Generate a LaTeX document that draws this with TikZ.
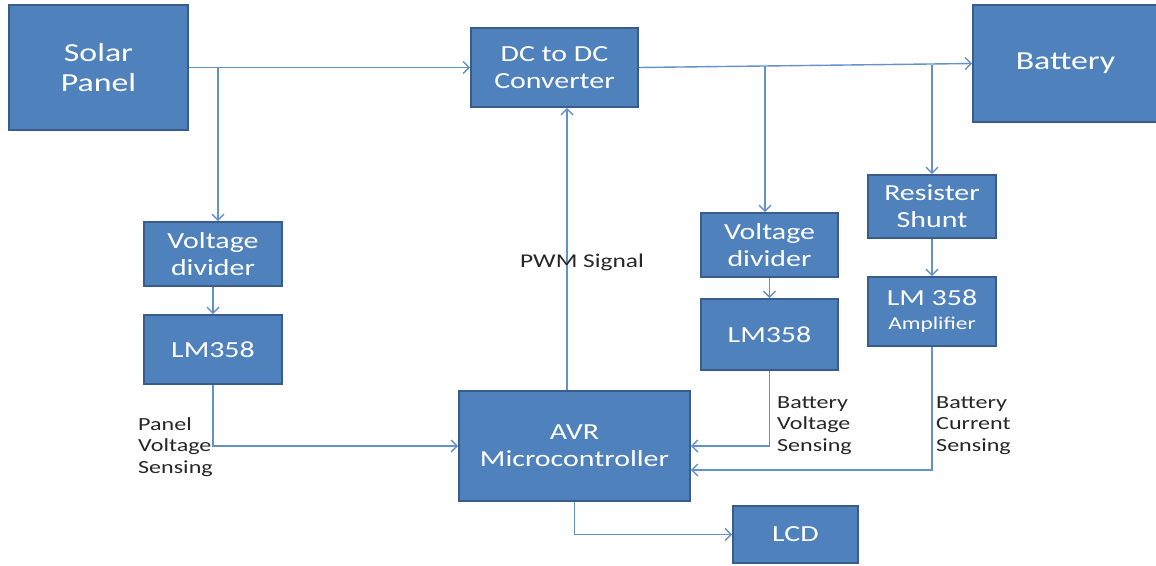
\documentclass[tikz,border=0pt]{standalone}
\usepackage{fontspec}
\setmainfont{Carlito}[FakeStretch=1.3]
\usetikzlibrary{arrows.meta,positioning}
\definecolor{boxfill}{HTML}{4F81BD}
\definecolor{boxline}{HTML}{385D8A}
\definecolor{wirecol}{HTML}{6591CB}
\begin{document}
\begin{tikzpicture}[x=1pt,y=-1pt]
\tikzstyle{every node}+=[inner sep=0pt]
\tikzstyle{block}=[draw=boxline,line width=1.8pt,fill=boxfill,text=white,align=center,font=\fontsize{23}{27}\selectfont]
\tikzstyle{bigblock}=[block,font=\fontsize{26}{30}\selectfont]
\tikzstyle{wire}=[draw=wirecol,line width=1.4pt,-{Straight Barb[length=6pt,width=12pt]}]
\tikzstyle{note}=[align=left,anchor=north west,text=black!85,font=\fontsize{18.5}{21.5}\selectfont]
\useasboundingbox (0,0) rectangle (1156,565);
\node [bigblock,minimum width=179,minimum height=125] (solar) at (98.5,67.5) {Solar\\Panel};
\node [block,minimum width=167,minimum height=79] (dcdc) at (554.5,67.5) {DC to DC\\Converter};
\node [bigblock,minimum width=185,minimum height=117] (battery) at (1065.5,63.5) {Battery};
\node [block,minimum width=138,minimum height=64] (vdl) at (213,254) {Voltage\\divider};
\node [block,minimum width=138,minimum height=69] (lml) at (213,349.5) {LM358};
\node [block,minimum width=231,minimum height=110] (avr) at (574.5,446) {AVR\\Microcontroller};
\node [block,minimum width=125,minimum height=57] (lcd) at (795.5,534.5) {LCD};
\node [block,minimum width=137,minimum height=64] (vdr) at (769.5,245) {Voltage\\divider};
\node [block,minimum width=137,minimum height=71] (lmr) at (769.5,334.5) {LM358};
\node [block,minimum width=128,minimum height=63] (shunt) at (932,206.5) {Resister\\Shunt};
\node [block,minimum width=128,minimum height=69] (amp) at (932,311.5) {LM 358\\[-3pt]{\fontsize{18}{20}\selectfont Amplifier}};
\coordinate (jl) at (218,67.5);
\coordinate (jr) at (765,66);
\coordinate (js) at (932,65);
\coordinate (pwm) at (567,0);
\draw [wire] (solar.east) -- (dcdc.west);
\draw [wire] (jl) -- (jl |- vdl.north);
\draw [wire] (vdl.south) -- (lml.north);
\draw [wire] (lml.south) |- (avr.west);
\draw [wire] (avr.north -| pwm) -- (dcdc.south -| pwm);
\draw [wire] (dcdc.east) -- (battery.west);
\draw [wire] (jr) -- (jr |- vdr.north);
\draw [wire] (vdr.south) -- (lmr.north);
\draw [wire] (js) -- (shunt.north);
\draw [wire] (shunt.south) -- (amp.north);
\draw [wire] (lmr.south) |- (avr.east);
\draw [wire] (amp.south) |- ([yshift=-24pt]avr.east);
\draw [wire] (avr.south) |- (lcd.west);
\node [note] (panelsense) at (138,417) {Panel\\Voltage\\Sensing};
\node [note] (battvsense) at (777,396) {Battery\\Voltage\\Sensing};
\node [note] (battcsense) at (936,396) {Battery\\Current\\Sensing};
\node [text=black!85,font=\fontsize{19.5}{22}\selectfont] (pwmlabel) at (582,262) {PWM Signal};
\end{tikzpicture}
\end{document}
